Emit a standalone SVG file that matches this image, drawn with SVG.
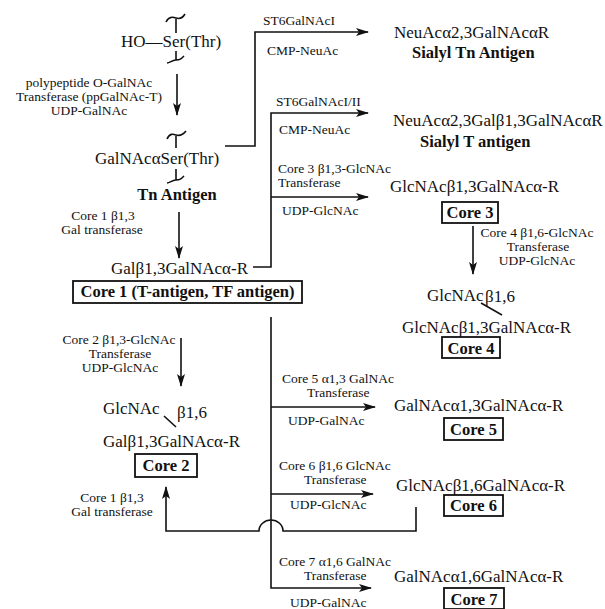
<svg xmlns="http://www.w3.org/2000/svg" width="605" height="609" viewBox="0 0 605 609">
<style>
text{font-family:"Liberation Serif","Times New Roman",serif;fill:#111}
.m{font-size:17px}
.s{font-size:13.5px}
.b{font-size:16.5px;font-weight:bold}
.c{text-anchor:middle}
.ln{stroke:#111;stroke-width:1.6;fill:none}
.box{fill:#fff;stroke:#111;stroke-width:1.8}
.ar{stroke:#111;stroke-width:1.6;fill:none;marker-end:url(#ah)}
</style>
<defs>
<marker id="ah" markerUnits="userSpaceOnUse" markerWidth="13" markerHeight="8" refX="12" refY="4" orient="auto">
<path d="M0,0 L13,4 L0,8 L3,4 z" fill="#111"/>
</marker>
</defs>
<rect width="605" height="609" fill="#fff"/>

<g id="serine">
<text class="m" x="121" y="47">HO—Ser(Thr)</text>
<path class="ln" d="M176,19 V33 M166,22 C169,16 173,17 176,18 S182,19 185,14"/>
<path class="ln" d="M176,51 V60 M167,63 C170,63 172,60 176,60 S181,59 184,56"/>
</g>

<g id="tn-antigen">
<text class="m" x="95" y="164">GalNAcαSer(Thr)</text>
<path class="ln" d="M176,136 V148 M167,139 C170,133 173,134 176,135 S182,136 186,131"/>
<path class="ln" d="M176,169 V180 M167,183 C170,183 172,180 176,180 S181,179 184,176"/>
<text class="b c" x="177" y="200">Tn Antigen</text>
</g>

<g id="core1">
<text class="m" x="111" y="274">Galβ1,3GalNAcα-R</text>
<rect class="box" x="73" y="281" width="229" height="22"/>
<text class="b c" x="187.5" y="297">Core 1 (T-antigen, TF antigen)</text>
</g>

<g id="sialyl-tn">
<text class="m" x="394" y="38">NeuAcα2,3GalNAcαR</text>
<text class="b" x="412" y="58">Sialyl Tn Antigen</text>
</g>

<g id="sialyl-t">
<text class="m" x="393" y="126">NeuAcα2,3Galβ1,3GalNAcαR</text>
<text class="b" x="420" y="147">Sialyl T antigen</text>
</g>

<g id="core3">
<text class="m" x="390" y="192">GlcNAcβ1,3GalNAcα-R</text>
<rect class="box" x="442" y="202" width="56" height="21"/>
<text class="b c" x="470" y="218">Core 3</text>
</g>

<g id="core4">
<text class="m" x="427" y="301">GlcNAc</text>
<text class="m" x="485" y="302">β1,6</text>
<path class="ln" d="M481,303 L502,315"/>
<text class="m" x="402" y="333">GlcNAcβ1,3GalNAcα-R</text>
<rect class="box" x="442" y="337" width="58" height="21"/>
<text class="b c" x="471" y="354">Core 4</text>
</g>

<g id="core2">
<text class="m" x="103" y="414">GlcNAc</text>
<text class="m" x="177" y="418">β1,6</text>
<path class="ln" d="M164,416 L176,427"/>
<text class="m" x="103" y="447">Galβ1,3GalNAcα-R</text>
<rect class="box" x="135" y="454" width="62" height="23"/>
<text class="b c" x="166" y="471">Core 2</text>
</g>

<g id="core5">
<text class="m" x="394" y="411">GalNAcα1,3GalNAcα-R</text>
<rect class="box" x="444" y="418" width="59" height="22"/>
<text class="b c" x="473.5" y="435">Core 5</text>
</g>

<g id="core6">
<text class="m" x="396" y="491">GlcNAcβ1,6GalNAcα-R</text>
<rect class="box" x="444" y="495" width="59" height="21"/>
<text class="b c" x="473.5" y="511">Core 6</text>
</g>

<g id="core7">
<text class="m" x="394" y="582">GalNAcα1,6GalNAcα-R</text>
<rect class="box" x="444" y="588" width="60" height="21"/>
<text class="b c" x="474" y="605">Core 7</text>
</g>

<g id="connectors">
<path class="ar" d="M177,74 V115"/>
<path class="ar" d="M179,212 V258"/>
<path class="ar" d="M225,146 H255 V32 H368"/>
<path class="ar" d="M253,267 H271 V113 H368"/>
<path class="ar" d="M271,197 H368"/>
<path class="ar" d="M473,226 V274"/>
<path class="ar" d="M181,338 V386"/>
<path class="ar" d="M271,317 V588 H371"/>
<path class="ar" d="M271,407 H375"/>
<path class="ar" d="M271,494 H373"/>
<path class="ar" d="M416,507 V531 H283 A12,11 0 0 0 259,531 H166 V487"/>
</g>

<g id="labels">
<text class="s c" x="89" y="87">polypeptide O-GalNAc</text>
<text class="s c" x="89" y="101">Transferase (ppGalNAc-T)</text>
<text class="s c" x="89" y="115">UDP-GalNAc</text>
<text class="s c" x="103" y="220">Core 1 β1,3</text>
<text class="s c" x="102" y="234">Gal transferase</text>
<text class="s" x="263" y="25">ST6GalNAcI</text>
<text class="s" x="267" y="55">CMP-NeuAc</text>
<text class="s" x="276" y="106">ST6GalNAcI/II</text>
<text class="s" x="279" y="134">CMP-NeuAc</text>
<text class="s" x="278" y="173">Core 3 β1,3-GlcNAc</text>
<text class="s" x="278" y="187">Transferase</text>
<text class="s" x="282" y="215">UDP-GlcNAc</text>
<text class="s c" x="537" y="237">Core 4 β1,6-GlcNAc</text>
<text class="s c" x="538" y="251">Transferase</text>
<text class="s c" x="537" y="265">UDP-GlcNAc</text>
<text class="s c" x="119" y="344">Core 2 β1,3-GlcNAc</text>
<text class="s c" x="120" y="358">Transferase</text>
<text class="s c" x="120" y="372">UDP-GlcNAc</text>
<text class="s c" x="112" y="502">Core 1 β1,3</text>
<text class="s c" x="112" y="516">Gal transferase</text>
<text class="s" x="282" y="383">Core 5 α1,3 GalNAc</text>
<text class="s" x="307" y="397">Transferase</text>
<text class="s" x="288" y="425">UDP-GalNAc</text>
<text class="s" x="279" y="470">Core 6 β1,6 GlcNAc</text>
<text class="s" x="304" y="484">Transferase</text>
<text class="s" x="290" y="509">UDP-GlcNAc</text>
<text class="s" x="279" y="566">Core 7 α1,6 GalNAc</text>
<text class="s" x="304" y="580">Transferase</text>
<text class="s" x="290" y="607">UDP-GalNAc</text>
</g>
</svg>
